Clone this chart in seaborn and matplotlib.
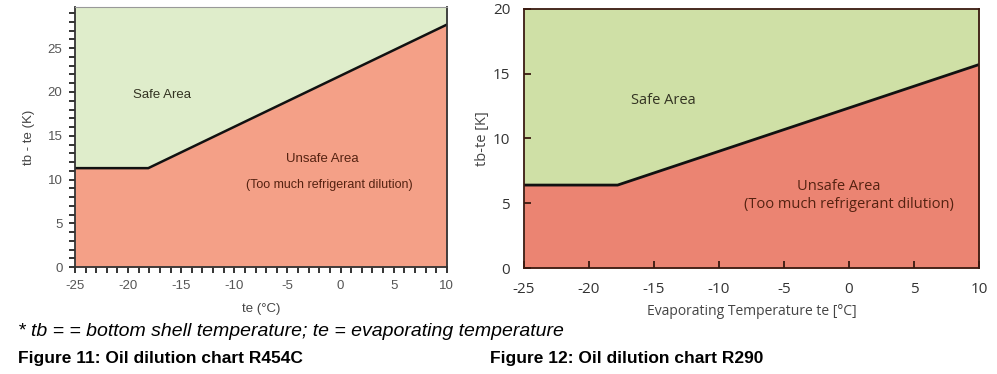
import numpy as np
import pandas as pd
import matplotlib
matplotlib.use("Agg")
import matplotlib.pyplot as plt
import seaborn as sns
from matplotlib.ticker import MultipleLocator

sns.set_style("white")
matplotlib.rcParams['font.family'] = ["Liberation Sans", "DejaVu Sans"]
matplotlib.rcParams['axes.unicode_minus'] = False
matplotlib.rcParams['xtick.bottom'] = True
matplotlib.rcParams['ytick.left'] = True

# boundary lines (te, tb-te)
teR454C = [-25, -18.1, 10]
dtR454C = [11.3, 11.3, 27.7]
teR290 = [-25, -17.8, 10]
dtR290 = [6.4, 6.4, 15.7]

xTicks = [-25, -20, -15, -10, -5, 0, 5, 10]
yTicksR454C = [0, 5, 10, 15, 20, 25]
yTicksR290 = [0, 5, 10, 15, 20]

fig = plt.figure(figsize=(9.97, 3.74), dpi=100)
axL = fig.add_axes([0.0752, 0.286, 0.373, 0.695])
axR = fig.add_axes([0.5256, 0.2834, 0.4564, 0.693])

# %% left chart - R454C
dfL = pd.DataFrame({"te": teR454C, "dt": dtR454C})
yTopL = 29.7
axL.fill_between(dfL["te"], dfL["dt"], yTopL, color="#dfedcb", lw=0)
axL.fill_between(dfL["te"], 0, dfL["dt"], color="#f4a087", lw=0)
sns.lineplot(data=dfL, x="te", y="dt", ax=axL, color="#111111", lw=1.8, sort=False)
axL.set_xlim(-25, 10)
axL.set_ylim(0, yTopL)
axL.set_xticks(xTicks)
axL.set_yticks(yTicksR454C)
axL.xaxis.set_minor_locator(MultipleLocator(1))
axL.yaxis.set_minor_locator(MultipleLocator(1))
axL.tick_params(which="both", direction="out", length=4, width=1.4, color="#333333",
                labelsize=9.5, labelcolor="#555555", pad=5, bottom=True, left=True)
for side in ["left", "bottom", "right"]:
    axL.spines[side].set_color("#333333")
    axL.spines[side].set_linewidth(1.3)
axL.spines["top"].set_color("#999999")
axL.spines["top"].set_linewidth(0.8)
axL.set_xlabel("te (°C)", fontsize=9.5, color="#444444", labelpad=8)
axL.set_ylabel("tb - te (K)", fontsize=9.5, color="#444444", labelpad=9)
axL.text(-16.8, 19.7, "Safe Area", fontsize=9.5, color="#333322", ha="center", va="center")
axL.text(-1.7, 12.3, "Unsafe Area", fontsize=9.5, color="#552211", ha="center", va="center")
axL.text(-1.1, 9.4, "(Too much refrigerant dilution)", fontsize=9, color="#552211",
         ha="center", va="center")

# %% right chart - R290
dfR = pd.DataFrame({"te": teR290, "dt": dtR290})
axR.fill_between(dfR["te"], dfR["dt"], 20, color="#cfe0a6", lw=0)
axR.fill_between(dfR["te"], 0, dfR["dt"], color="#eb8472", lw=0)
sns.lineplot(data=dfR, x="te", y="dt", ax=axR, color="#111111", lw=2, sort=False)
axR.set_axisbelow(False)
axR.set_xlim(-25, 10)
axR.set_ylim(0, 20)
axR.set_xticks(xTicks)
axR.set_yticks(yTicksR290)
axR.tick_params(which="major", direction="in", length=5, width=1.3, color="#3a1a10",
                labelsize=11, labelcolor="#333333", pad=10, bottom=True, left=True)
for side in axR.spines:
    axR.spines[side].set_color("#3a1a10")
    axR.spines[side].set_linewidth(1.3)
axR.set_xlabel("Evaporating Temperature te [°C]", fontsize=10, color="#444444",
               family=["Open Sans", "DejaVu Sans"], labelpad=5)
axR.set_ylabel("tb-te [K]", fontsize=10.5, color="#444444",
               family=["Open Sans", "DejaVu Sans"], labelpad=2)
for lab in axR.get_xticklabels() + axR.get_yticklabels():
    lab.set_family(["Open Sans", "DejaVu Sans"])
axR.text(-14.3, 12.9, "Safe Area", fontsize=10.5, color="#333322", ha="center", va="center",
         family=["Open Sans", "DejaVu Sans"])
axR.text(-0.8, 6.3, "Unsafe Area", fontsize=10.5, color="#552211", ha="center", va="center",
         family=["Open Sans", "DejaVu Sans"])
axR.text(0.0, 4.9, "(Too much refrigerant dilution)", fontsize=10.5, color="#552211",
         ha="center", va="center", family=["Open Sans", "DejaVu Sans"])

# %% captions
fig.text(0.018, 1 - 331 / 374, "* tb = = bottom shell temperature; te = evaporating temperature",
         fontsize=14, style="italic", color="black", va="center")
fig.text(0.018, 1 - 359 / 374, "Figure 11: Oil dilution chart R454C",
         fontsize=12.5, weight="bold", color="black", va="center")
fig.text(0.4915, 1 - 359 / 374, "Figure 12: Oil dilution chart R290",
         fontsize=12.5, weight="bold", color="black", va="center")

plt.savefig("out.png", dpi=100)
